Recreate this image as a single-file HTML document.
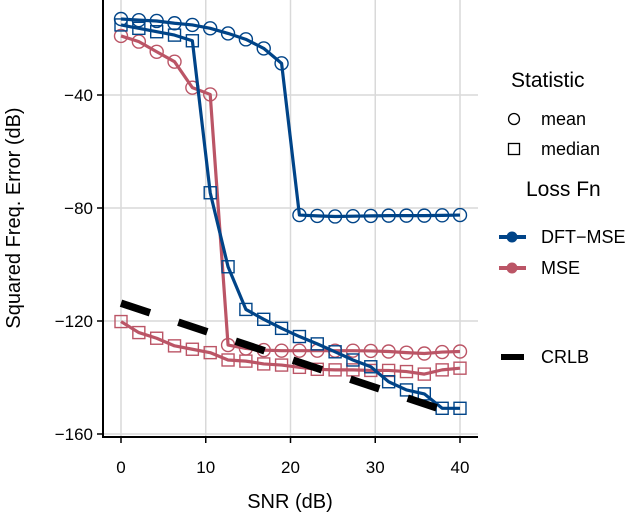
<!DOCTYPE html>
<html><head><meta charset="utf-8"><style>
html,body{margin:0;padding:0;background:#fff;}
svg{display:block;font-family:"Liberation Sans",Arial,sans-serif;}
</style></head><body>
<svg id="chart" width="640" height="519" viewBox="0 0 640 519">
<g id="grid"></g>
<g id="series"></g>
<g id="axes"></g>
<text x="290" y="508" font-size="20" text-anchor="middle">SNR (dB)</text>
<text transform="translate(20,218) rotate(-90)" font-size="20" text-anchor="middle">Squared Freq. Error (dB)</text>
<g font-size="18">
<text x="511" y="87" font-size="21">Statistic</text>
<circle cx="514" cy="119" r="5.5" fill="none" stroke="#000" stroke-width="1.3"/>
<text x="541" y="125">mean</text>
<rect x="508.5" y="143.5" width="11" height="11" fill="none" stroke="#000" stroke-width="1.3"/>
<text x="541" y="155">median</text>
<text x="526" y="196" font-size="21">Loss Fn</text>
<line x1="499" y1="237" x2="526" y2="237" stroke="#004488" stroke-width="4"/>
<circle cx="512" cy="237" r="5.5" fill="#004488"/>
<text x="541" y="243">DFT−MSE</text>
<line x1="499" y1="268" x2="526" y2="268" stroke="#BB5566" stroke-width="4"/>
<circle cx="512" cy="268" r="5.5" fill="#BB5566"/>
<text x="541" y="274">MSE</text>
<line x1="501" y1="357" x2="524" y2="357" stroke="#000" stroke-width="6"/>
<text x="541" y="363">CRLB</text>
</g>
</svg>
<script>
const snr = [0,2.105,4.211,6.316,8.421,10.526,12.632,14.737,16.842,18.947,21.053,23.158,25.263,27.368,29.474,31.579,33.684,35.789,37.895,40];
const dftMean = [-13.1,-13.5,-13.8,-14.6,-15.2,-16.4,-18.2,-20.3,-23.5,-28.8,-82.5,-82.8,-83,-82.9,-82.8,-82.7,-82.7,-82.7,-82.6,-82.5];
const dftMedian = [-15.2,-16.4,-17.6,-18.8,-20.8,-74.6,-100.8,-115.9,-119.4,-122.6,-125.5,-128.1,-130.9,-133.8,-136.2,-141.5,-144.4,-145.8,-150.9,-150.9];
const mseMean = [-19.1,-21.1,-24.7,-28.2,-37.4,-39.8,-128.5,-129.7,-130.3,-130.5,-130.5,-130.5,-130.5,-130.5,-130.6,-130.8,-131.2,-131.5,-131,-130.8];
const mseMedian = [-120.2,-124.1,-126.1,-128.8,-130,-131.2,-133.8,-134.2,-135.2,-135.6,-136.4,-137.1,-137.3,-137.3,-137.5,-137.5,-137.9,-138.8,-137.3,-136.7];
const crlbX = [0,37.3];
const crlbY = [-113.7,-150.8];
const xTicks = [0,10,20,30,40];
const yTicks = [-40,-80,-120,-160];
const NS='http://www.w3.org/2000/svg';
const xs = v => 121 + v*(460-121)/40;
const ys = v => 95 + (-40 - v)*(434-95)/120;
function mk(tag, attrs, parent){const e=document.createElementNS(NS,tag);for(const k in attrs)e.setAttribute(k,attrs[k]);parent.appendChild(e);return e;}
const grid=document.getElementById('grid'), ser=document.getElementById('series'), ax=document.getElementById('axes');
xTicks.forEach(t=>{
  const l=mk('line',{x1:xs(t),x2:xs(t),y1:0,y2:437,stroke:'#d9d9d9','stroke-width':1.5},grid);
  
  
  const tk=mk('line',{x1:xs(t),x2:xs(t),y1:437,y2:443,stroke:'#000','stroke-width':1.5},ax);
  
  
  const tx=mk('text',{x:xs(t),y:473,'font-size':17,'text-anchor':'middle'},ax);
  tx.textContent=t;
  
  
});
yTicks.forEach(t=>{
  const l=mk('line',{x1:103,x2:478,y1:ys(t),y2:ys(t),stroke:'#d9d9d9','stroke-width':1.5},grid);
  
  
  const tk=mk('line',{x1:97,x2:103,y1:ys(t),y2:ys(t),stroke:'#000','stroke-width':1.5},ax);
  
  
  const tx=mk('text',{x:93,y:ys(t)+6,'font-size':17,'text-anchor':'end'},ax);
  tx.textContent=String(t).replace('-','−');
  
  
});
const axl=mk('path',{d:'M103,0 V437 H478',fill:'none',stroke:'#000','stroke-width':2},ax);


function series(vals,color,shape,name){
  const g=mk('g',{},ser);
  
  
  const pts=snr.map((x,i)=>xs(x)+','+ys(vals[i])).join(' ');
  const pl=mk('polyline',{points:pts,fill:'none',stroke:color,'stroke-width':3.2,'stroke-linejoin':'round'},g);
  
  
  snr.forEach((x,i)=>{
    let m;
    if(shape==='c') m=mk('circle',{cx:xs(x),cy:ys(vals[i]),r:6.5,fill:'none',stroke:color,'stroke-width':1.4},g);
    else m=mk('rect',{x:xs(x)-6,y:ys(vals[i])-6,width:12,height:12,fill:'none',stroke:color,'stroke-width':1.4},g);
    
    
  });
}
series(mseMedian,'#BB5566','s','mse-median');
series(mseMean,'#BB5566','c','mse-mean');
series(dftMedian,'#004488','s','dft-mse-median');
series(dftMean,'#004488','c','dft-mse-mean');
const cr=mk('line',{x1:xs(crlbX[0]),y1:ys(crlbY[0]),x2:xs(crlbX[1]),y2:ys(crlbY[1]),stroke:'#000','stroke-width':7.5,'stroke-dasharray':'30.5 29.9'},ser);


</script>
</body></html>
